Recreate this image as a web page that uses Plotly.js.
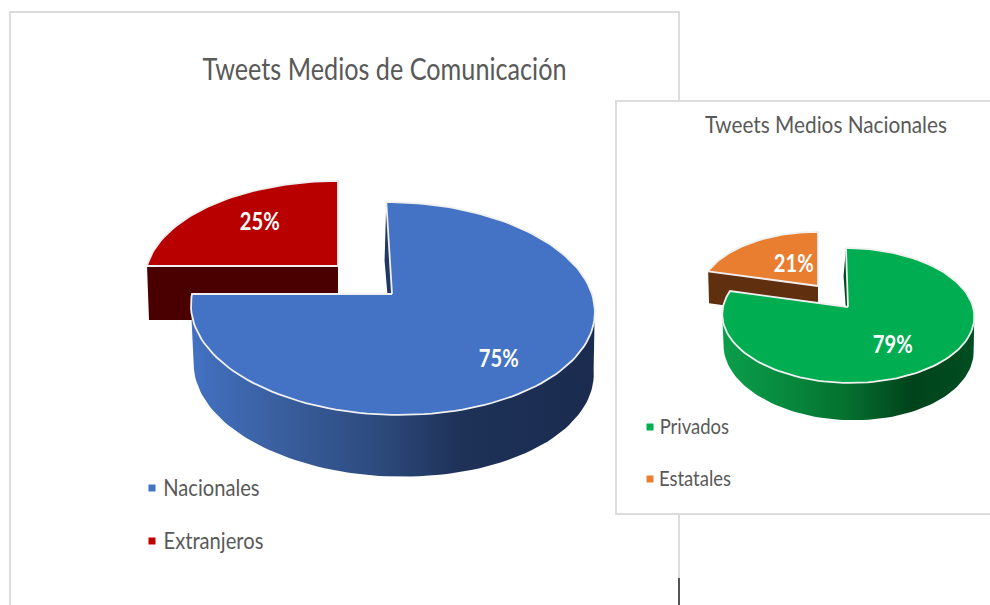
<!DOCTYPE html>
<html>
<head>
<meta charset="utf-8">
<script src="https://cdn.plot.ly/plotly-3.0.1.min.js"></script>
<style>html,body{margin:0;padding:0;background:#fff}#chart{width:990px;height:605px}</style>
</head>
<body>
<div id="chart"></div>
<script>
// ---- data ----
const mediosLabels = ['Nacionales', 'Extranjeros'];
const mediosValues = [75, 25];
const nacionalesLabels = ['Privados', 'Estatales'];
const nacionalesValues = [79, 21];
const mediosTitle = 'Tweets Medios de Comunicación';
const nacionalesTitle = 'Tweets Medios Nacionales';

// ---- styling and perspective geometry ----
const FONT = 'Lato, sans-serif';
const TXT = '#595959';
const RIM = '#f0f0f0';
const CONDENSE = 0.84;
const pieMedios = {
  total: mediosValues,
  slices: [
    {top:{cx:392,cy:294,A:200,B:104.5,k:.136,s:-6.5}, bot:{cx:392.5,cy:354,A:198,B:106,k:.136,s:-9},
     face:'#4472c4', wall:'#1f3864', gradFrom:190, gradTo:595,
     grad:[[0,'#4472c4'],[.06,'#406cb8'],[.22,'#3a5f9f'],[.47,'#2c4a7c'],[.67,'#1e3157'],[1,'#1a2b4f']]},
    {top:{cx:338,cy:266,A:191,B:96.6,k:.136,s:0}, bot:{cx:338,cy:320,A:189,B:96,k:.136,s:0},
     face:'#b80000', wall:'#4b0000'}
  ],
  draw:[1,0]
};
const pieNacionales = {
  total: nacionalesValues,
  slices: [
    {top:{cx:848,cy:307,A:125,B:66.4,k:.126,s:-2.3}, bot:{cx:848,cy:339,A:124,B:71,k:.126,s:-5},
     face:'#00ad50', wall:'#014a20', gradFrom:722, gradTo:974,
     grad:[[0,'#0a9e4a'],[.25,'#078a3e'],[.5,'#05702f'],[.75,'#00431b'],[1,'#014d22']]},
    {top:{cx:818,cy:286,A:117,B:61,k:.126,s:0}, bot:{cx:818,cy:318,A:116,B:61,k:.126,s:0},
     face:'#e97d30', wall:'#5f2f10'}
  ],
  draw:[1,0]
};
const legendColors = ['#4472c4','#c00000','#00b050','#ed7d31'];
const legendX = [152,152,650,650];
const legendY = [488,541,427,479];
const legendTextX = [211,213,694,695];
const legendTextY = [486.5,539.5,425,477];
const labelX = [499,260,892.5,794];
const labelY = [357,220,343,262];

// ---- projection of a circle on a tilted plane ----
function proj(g, deg, r) {
  const t = deg*Math.PI/180, u = r*Math.sin(t), v = r*Math.cos(t), d = 1+g.k*v;
  return [g.cx+(g.A*u+g.s*v)/d, g.cy-g.B*v/d];
}
function arc(g, a0, a1) {
  const pts = [], n = Math.max(2, Math.ceil(Math.abs(a1-a0)/2));
  for (let i=0;i<=n;i++) pts.push(proj(g, a0+(a1-a0)*i/n, 1));
  return pts;
}
function poly(pts, extra) {
  return Object.assign({type:'scatter', mode:'lines', x:pts.map(p=>p[0]), y:pts.map(p=>p[1]),
    fill:'toself', hoverinfo:'skip', showlegend:false}, extra);
}
function pieTraces(pie) {
  const sum = pie.total.reduce((a,b)=>a+b,0), out = [];
  const starts = []; let acc = 0;
  pie.total.forEach(v=>{starts.push([acc/sum*360,(acc+v)/sum*360]); acc+=v;});
  pie.draw.forEach(i=>{
    const s = pie.slices[i], [a0,a1] = starts[i];
    // radial wall on the leading edge
    out.push(poly([proj(s.top,a0,0),proj(s.top,a0,1),proj(s.bot,a0,1),proj(s.bot,a0,0)],
      {line:{width:0,color:s.wall}, fillcolor:s.wall}));
    // outer wall, only its front part, between the silhouette tangents
    const w0 = Math.max(a0,98), w1 = Math.min(a1,262);
    if (w1>w0) {
      const pts = arc(s.bot,w0,w1).concat(arc(s.top,w1,w0));
      pts.push(pts[0]);
      out.push(poly(pts,{line:{width:0,color:s.wall},
        fillgradient:{type:'horizontal',colorscale:s.grad,start:s.gradFrom,stop:s.gradTo}}));
    }
    // top face
    const face = [proj(s.top,a0,0)].concat(arc(s.top,a0,a1));
    face.push(proj(s.top,a0,0));
    out.push(poly(face,{line:{width:1.8,color:RIM}, fillcolor:s.face}));
  });
  return out;
}

const legendNames = mediosLabels.concat(nacionalesLabels);
const legendTraces = legendNames.map((n,i)=>({
  type:'scatter', mode:'markers', x:[legendX[i]], y:[legendY[i]], name:n,
  hoverinfo:'skip', showlegend:false,
  marker:{symbol:'square',size:7,color:legendColors[i]}
}));
const legendAnn = legendNames.map((n,i)=>({
  text:n, x:legendTextX[i], y:legendTextY[i], xref:'x', yref:'y', showarrow:false,
  xanchor:'center', yanchor:'middle',
  font:{family:FONT,size:i<2?24:22,color:TXT}
}));
const pctValues = mediosValues.concat(nacionalesValues);
const pctAnn = pctValues.map((v,i)=>({
  text:v+'%', x:labelX[i], y:labelY[i], xref:'x', yref:'y', showarrow:false,
  font:{family:FONT,size:24,weight:700,color:'#ffffff'}, xanchor:'center', yanchor:'middle'
}));

const line = c=>({color:c,width:2});
const layout = {
  width:990, height:605, margin:{l:0,r:0,t:0,b:0}, paper_bgcolor:'#fff', plot_bgcolor:'#fff',
  showlegend:false,
  xaxis:{range:[0,990],visible:false,fixedrange:true},
  yaxis:{range:[605,0],visible:false,fixedrange:true},
  title:{text:mediosTitle,x:384.5/990,xanchor:'center',xref:'paper',y:1-69/605,yanchor:'middle',yref:'paper',
    font:{family:FONT,size:30,color:TXT}},
  annotations:[{text:nacionalesTitle,x:826,y:123,xref:'x',yref:'y',showarrow:false,xanchor:'center',yanchor:'middle',
    font:{family:FONT,size:24,color:TXT}}].concat(pctAnn, legendAnn),
  shapes:[
    {type:'rect',xref:'x',yref:'y',x0:10,y0:12,x1:679,y1:640,line:line('#dcdcdc'),fillcolor:'#fff',layer:'below'},
    {type:'line',xref:'x',yref:'y',x0:679,y0:578,x1:679,y1:605,line:line('#555555'),layer:'below'},
    {type:'rect',xref:'x',yref:'y',x0:616,y0:101,x1:1010,y1:514,line:line('#dcdcdc'),fillcolor:'#fff',layer:'below'}
  ]
};
const traces = pieTraces(pieMedios).concat(pieTraces(pieNacionales), legendTraces);
Plotly.newPlot('chart', traces, layout, {staticPlot:true, displayModeBar:false}).then(gd=>{
  // the reference font is a condensed face: condense the real text elements
  gd.querySelectorAll('.gtitle, .annotation-text').forEach(t=>{
    const f = t.textContent === nacionalesTitle ? 0.865 : CONDENSE;
    t.setAttribute('textLength', (t.getComputedTextLength()*f).toFixed(1));
    t.setAttribute('lengthAdjust','spacingAndGlyphs');
  });
});
</script>
</body>
</html>
